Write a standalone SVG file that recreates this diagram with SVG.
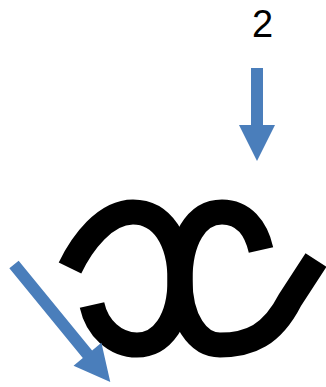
<svg xmlns="http://www.w3.org/2000/svg" width="326" height="387" viewBox="0 0 326 387">
<style>
.curl{fill:none;stroke:#000;stroke-width:25;stroke-linecap:butt;stroke-linejoin:round}
.arrow{fill:#4a7ebb}
.lbl{font-family:"Liberation Sans",Arial,sans-serif;font-size:38px;fill:#000;text-anchor:middle}
</style>
<g id="label-2"><text class="lbl" x="262.5" y="37">2</text></g>
<g id="shape-curl">
<path class="curl" d="M70,268 C82,243 105,212 133,212 C162,212 180,240 180,280 C180,320 162,345 137,345 C115,345 97,328 92,305"/>
<path class="curl" d="M261,250 C256,228 243,212 222,212 C196,212 180,240 180,280 C180,320 198,345 220,345 C250,345 272,335 290,300 L316,260"/>
</g>
<g id="connectors">
<polygon class="arrow" points="251,68 263,68 263,125 275,125 257,161 239,125 251,125"/>
<polygon class="arrow" transform="translate(14,264.5) rotate(50.7)" points="0,-6 116,-6 116,-18 152,0 116,18 116,6 0,6"/>
</g>
</svg>
